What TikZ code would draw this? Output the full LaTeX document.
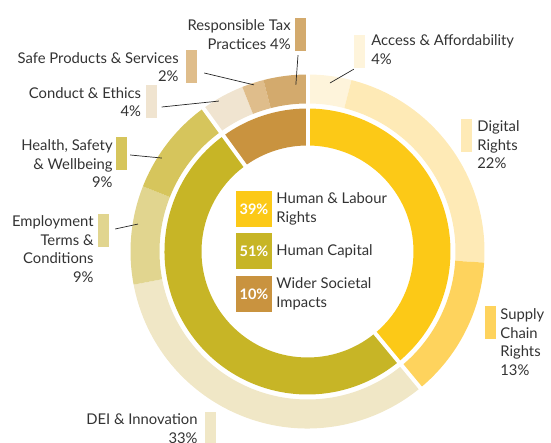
\documentclass[tikz,border=0pt]{standalone}
\usepackage{fontspec}
\setmainfont{Lato}
\usetikzlibrary{positioning}

\definecolor{txtCol}{HTML}{333333}
\definecolor{hlrCol}{HTML}{FCC917}
\definecolor{hcCol}{HTML}{C7B526}
\definecolor{wsiCol}{HTML}{C9933F}
\definecolor{accessCol}{HTML}{FEF4DB}
\definecolor{digitalCol}{HTML}{FEEAB6}
\definecolor{supplyCol}{HTML}{FED35D}
\definecolor{deiCol}{HTML}{F0E7C6}
\definecolor{employCol}{HTML}{E1D58F}
\definecolor{healthCol}{HTML}{D6C55C}
\definecolor{conductCol}{HTML}{F0E4D0}
\definecolor{safeCol}{HTML}{DFBD8B}
\definecolor{taxCol}{HTML}{D3AA6D}

\tikzset{
  lbl/.style={font=\fontsize{14.8}{18.5}\selectfont, text=txtCol, inner sep=0pt},
  swatch/.style={minimum width=11pt, minimum height=33pt, inner sep=0pt},
  key/.style={minimum size=36pt, inner sep=0pt, text=white, font=\fontsize{14.5}{16}\selectfont\bfseries},
  leader/.style={draw=black!85, line width=0.7pt},
  gap/.style={draw=white, line width=4pt}
}

% ring piece: colour, start angle, end angle, inner radius, outer radius
\newcommand{\ringseg}[5]{%
  \fill[#1] (#2:#4) arc[start angle=#2, end angle=#3, radius=#4]
    -- (#3:#5) arc[start angle=#3, end angle=#2, radius=#5] -- cycle;}

\begin{document}
\begin{tikzpicture}[x=1pt, y=1pt]
\useasboundingbox (-307.5,-191.5) rectangle (243.5,251.5);

% Inner ring
\ringseg{hlrCol}{90}{-50.4}{106}{143}
\ringseg{hcCol}{-50.4}{-234}{106}{143}
\ringseg{wsiCol}{126}{90}{106}{143}

% Outer ring
\foreach \col/\a/\b in {accessCol/90/75.6, digitalCol/75.6/-3.6, supplyCol/-3.6/-50.4,
    deiCol/-50.4/-169.2, employCol/-169.2/-201.6, healthCol/-201.6/-234,
    conductCol/126/111.6, safeCol/111.6/104.4, taxCol/104.4/90} {
  \ringseg{\col}{\a}{\b}{148}{177}
}

% Gaps between groups
\foreach \a in {90, -50.4, 126} {
  \draw[gap] (\a:100) -- (\a:182);
}

% Legend
\node[key, fill=hlrCol] (hlr-key) at (-53.5,42.5) {39\%};
\node[key, fill=hcCol, below=6pt of hlr-key] (hc-key) {51\%};
\node[key, fill=wsiCol, below=6pt of hc-key] (wsi-key) {10\%};
\node[lbl, align=left, right=4pt of hlr-key] (hlr-txt) {Human \& Labour\\Rights};
\node[lbl, align=left, right=4pt of hc-key] (hc-txt) {Human Capital};
\node[lbl, align=left, right=4pt of wsi-key] (wsi-txt) {Wider Societal\\Impacts};

% Swatches
\node[swatch, fill=taxCol] (tax-sw) at (-7,217) {};
\node[swatch, fill=safeCol] (safe-sw) at (-116,184.5) {};
\node[swatch, fill=conductCol] (conduct-sw) at (-155.5,149.5) {};
\node[swatch, fill=healthCol] (health-sw) at (-186,98) {};
\node[swatch, fill=employCol] (employ-sw) at (-204,21) {};
\node[swatch, fill=deiCol] (dei-sw) at (-97,-177) {};
\node[swatch, fill=accessCol] (access-sw) at (52,200) {};
\node[swatch, fill=digitalCol] (digital-sw) at (159,116) {};
\node[swatch, fill=supplyCol] (supply-sw) at (183,-71) {};

% Labels
\node[lbl, align=right, left=4pt of tax-sw] (tax-txt) {Responsible Tax\\Practices 4\%};
\node[lbl, align=right, left=7pt of safe-sw] (safe-txt) {Safe Products \& Services\\2\%};
\node[lbl, align=right, left=5pt of conduct-sw] (conduct-txt) {Conduct \& Ethics\\4\%};
\node[lbl, align=right, left=3pt of health-sw.north west, anchor=north east, yshift=-3pt] (health-txt) {Health, Safety\\\& Wellbeing\\9\%};
\node[lbl, align=right, left=4pt of employ-sw.north west, anchor=north east, yshift=-2pt] (employ-txt) {Employment\\Terms \&\\Conditions\hspace*{5pt}\\9\%};
\node[lbl, align=right, left=7pt of dei-sw.north west, anchor=north east, yshift=-2pt] (dei-txt) {DEI \& Innovation\\33\%};
\node[lbl, align=left, right=6pt of access-sw.north east, anchor=north west] (access-txt) {Access \& Affordability\\4\%};
\node[lbl, align=left, right=5pt of digital-sw.north east, anchor=north west, yshift=-2pt] (digital-txt) {Digital\\Rights\\22\%};
\node[lbl, align=left, right=4pt of supply-sw.north east, anchor=north west, yshift=-3pt] (supply-txt) {Supply\\Chain\\Rights\\13\%};

% Leader lines
\coordinate (tax-pt) at (94:167);
\coordinate (safe-pt) at (107.8:175);
\coordinate (conduct-pt) at (120.5:174.6);
\coordinate (health-pt) at (147.3:173);
\coordinate (employ-pt) at (170.8:171.7);
\coordinate (access-pt) at (82.4:170);
\draw[leader] ([shift={(-2.5,-4)}]tax-sw.south) -- (tax-pt);
\draw[leader] ([shift={(7,-6)}]safe-sw.east) -- (safe-pt);
\draw[leader] ([shift={(4,-5)}]conduct-sw.east) -- (conduct-pt);
\draw[leader] ([shift={(3,-1.5)}]health-sw.east) -- (health-pt);
\draw[leader] ([shift={(6,1.5)}]employ-sw.east) -- (employ-pt);
\draw[leader] ([shift={(0,-1)}]access-sw.south west) -- (access-pt);
\end{tikzpicture}
\end{document}
